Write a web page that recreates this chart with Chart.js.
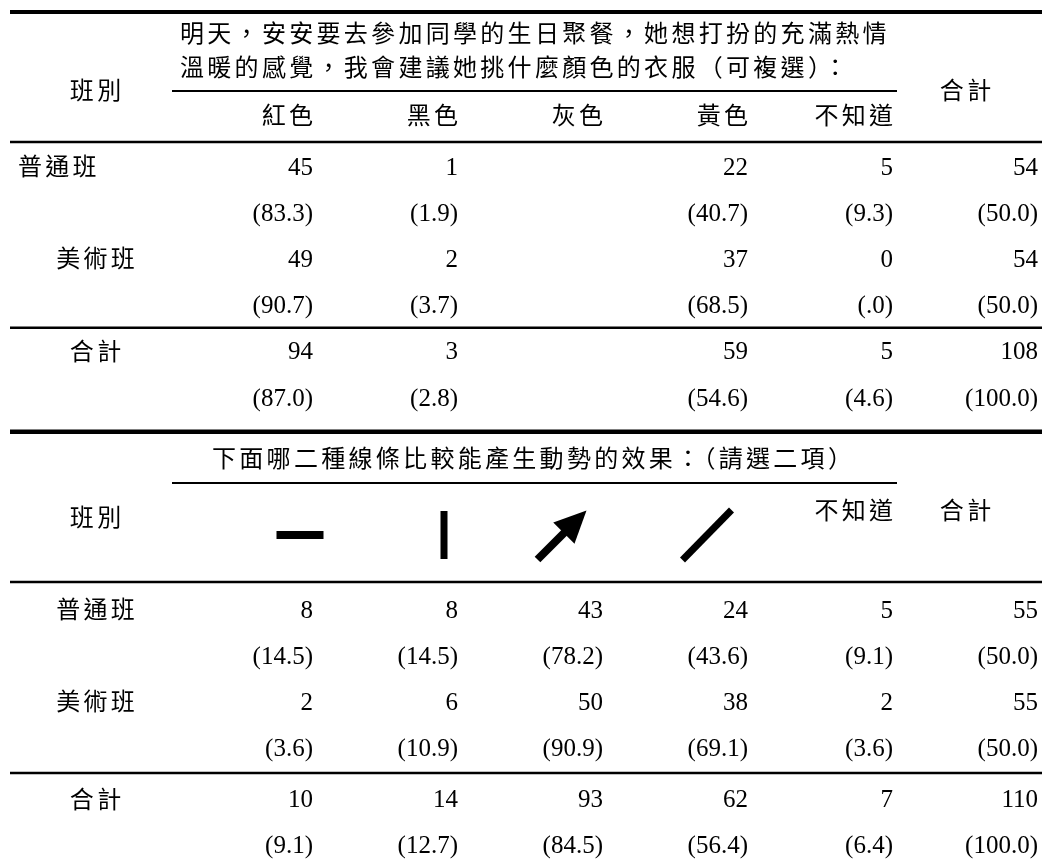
<!DOCTYPE html>
<html>
<head>
<meta charset="utf-8">
<title>班別 交叉表</title>
<script src="https://cdn.jsdelivr.net/npm/chart.js@4.4.0/dist/chart.umd.min.js"></script>
<style>
  html, body { margin: 0; padding: 0; background: #fff; }
  .tbl { position: relative; width: 1045px; height: 434px; }
</style>
</head>
<body>
<div class="tbl"><canvas id="t1"></canvas></div>
<div class="tbl"><canvas id="t2"></canvas></div>
<script>
// ---- data ----
const classLabels = ["普通班", "美術班", "合計"];

const q1Question = [
  "明天，安安要去參加同學的生日聚餐，她想打扮的充滿熱情",
  "溫暖的感覺，我會建議她挑什麼顏色的衣服（可複選）："
];
const q1Heads = ["紅色", "黑色", "灰色", "黃色", "不知道"];
const q1RegularN   = [45, 1, null, 22, 5, 54];
const q1RegularPct = [83.3, 1.9, null, 40.7, 9.3, 50.0];
const q1ArtN       = [49, 2, null, 37, 0, 54];
const q1ArtPct     = [90.7, 3.7, null, 68.5, 0.0, 50.0];
const q1TotalN     = [94, 3, null, 59, 5, 108];
const q1TotalPct   = [87.0, 2.8, null, 54.6, 4.6, 100.0];

const q2Question = ["下面哪二種線條比較能產生動勢的效果：（請選二項）"];
const q2Symbols = ["horizontal", "vertical", "arrow", "diagonal"];
const q2Heads = [null, null, null, null, "不知道"];
const q2RegularN   = [8, 8, 43, 24, 5, 55];
const q2RegularPct = [14.5, 14.5, 78.2, 43.6, 9.1, 50.0];
const q2ArtN       = [2, 6, 50, 38, 2, 55];
const q2ArtPct     = [3.6, 10.9, 90.9, 69.1, 3.6, 50.0];
const q2TotalN     = [10, 14, 93, 62, 7, 110];
const q2TotalPct   = [9.1, 12.7, 84.5, 56.4, 6.4, 100.0];

const totalHead = "合計";
const classHead = "班別";

// ---- look ----
const CJK = '"Noto Sans CJK TC", "Noto Sans CJK SC", sans-serif';
const NUM = '"Liberation Serif", "Times New Roman", serif';
const CJK_SIZE = 24, NUM_SIZE = 25, SPACING = 3.3;
const RULE_L = 10, RULE_R = 1042, SPAN_L = 172, SPAN_R = 897;

function fmtPct(v) {
  let s = v.toFixed(1);
  if (s.startsWith("0.")) s = s.slice(1);
  return "(" + s + ")";
}

function bodyPoints(rows) {
  const pts = [];
  rows.forEach((vals, r) => {
    vals.forEach((v, c) => {
      if (v === null) return;
      pts.push({ x: c, y: r, t: r % 2 ? fmtPct(v) : String(v) });
    });
  });
  return pts;
}

function labelPoints() {
  return classLabels.map((name, i) => ({ x: -1, y: i * 2, t: name }));
}

function spaced(ctx, text, x, y, align) {
  ctx.save();
  ctx.font = CJK_SIZE + "px " + CJK;
  ctx.textAlign = "left";
  ctx.textBaseline = "alphabetic";
  const chars = Array.from(text);
  const ws = chars.map(ch => ctx.measureText(ch).width);
  const w = ws.reduce((a, b) => a + b, 0) + SPACING * (chars.length - 1);
  let x0 = align === "right" ? x - w : align === "center" ? x - w / 2 : x;
  const base = y + 9;
  if ("letterSpacing" in ctx) {
    ctx.letterSpacing = SPACING + "px";
    ctx.fillText(text, x0, base);
  } else {
    chars.forEach((ch, i) => { ctx.fillText(ch, x0, base); x0 += ws[i] + SPACING; });
  }
  ctx.restore();
}

function rule(ctx, y, lw, x0 = RULE_L, x1 = RULE_R) {
  ctx.save();
  ctx.lineWidth = lw;
  ctx.strokeStyle = "#000";
  ctx.beginPath();
  ctx.moveTo(x0, y);
  ctx.lineTo(x1, y);
  ctx.stroke();
  ctx.restore();
}

function drawSymbol(ctx, kind, cx, cy) {
  ctx.save();
  ctx.fillStyle = "#000";
  ctx.strokeStyle = "#000";
  ctx.lineCap = "butt";
  if (kind === "horizontal") {
    ctx.fillRect(cx - 23.5, cy - 4, 47, 8);
  } else if (kind === "vertical") {
    ctx.fillRect(cx - 3.5, cy - 24, 7, 48);
  } else if (kind === "arrow") {
    const tx = cx - 24.5, ty = cy + 24.5, hx = cx + 24.5, hy = cy - 24.5;
    const len = Math.hypot(hx - tx, hy - ty);
    const ux = (hx - tx) / len, uy = (hy - ty) / len, nx = -uy, ny = ux;
    const headLen = 32, headW = 15;
    const bx = hx - ux * headLen, by = hy - uy * headLen;
    ctx.lineWidth = 8;
    ctx.beginPath();
    ctx.moveTo(tx, ty);
    ctx.lineTo(bx + ux * 3, by + uy * 3);
    ctx.stroke();
    ctx.beginPath();
    ctx.moveTo(hx, hy);
    ctx.lineTo(bx + nx * headW, by + ny * headW);
    ctx.lineTo(bx - nx * headW, by - ny * headW);
    ctx.closePath();
    ctx.fill();
  } else if (kind === "diagonal") {
    ctx.lineWidth = 7;
    ctx.beginPath();
    ctx.moveTo(cx - 24.5, cy + 25);
    ctx.lineTo(cx + 24.5, cy - 25);
    ctx.stroke();
  }
  ctx.restore();
}

// draws the whole table from the scales and the dataset elements
const tablePlugin = {
  id: "tableCells",
  afterDraw(chart, args, o) {
    const ctx = chart.ctx;
    const xs = chart.scales.x, ys = chart.scales.y;
    const half = (xs.getPixelForValue(1) - xs.getPixelForValue(0)) / 2;
    const rightEdge = c => xs.getPixelForValue(c) + half;
    const mid = c => xs.getPixelForValue(c);
    const rowPx = r => ys.getPixelForValue(r);

    ctx.save();
    ctx.fillStyle = "#000";

    // rules
    if (o.topRule) rule(ctx, o.topRule, 4);
    rule(ctx, o.spanRule, 2, SPAN_L, SPAN_R);
    rule(ctx, o.headRule, 2.5);
    const groupY = (rowPx(3) + rowPx(4 + o.gap)) / 2;
    rule(ctx, groupY, 2.5);
    if (o.bottomRule) rule(ctx, o.bottomRule, 5);

    // question text
    o.question.forEach((line, i) => spaced(ctx, line, o.qx, o.qy[i], "left"));

    // header cells
    spaced(ctx, classHead, mid(-1), o.classHeadY, "center");
    spaced(ctx, totalHead, mid(5), o.totalHeadY, "center");
    o.heads.forEach((h, c) => { if (h) spaced(ctx, h, rightEdge(c), o.headY, "right"); });
    if (o.symbols) {
      o.symbols.forEach((s, c) => drawSymbol(ctx, s, rightEdge(c) + o.symbolShift[c], o.symbolY));
    }

    // body numbers
    const bodyData = chart.data.datasets[0].data;
    ctx.font = NUM_SIZE + "px " + NUM;
    ctx.textAlign = "right";
    ctx.textBaseline = "alphabetic";
    chart.getDatasetMeta(0).data.forEach((el, i) => {
      ctx.fillText(bodyData[i].t, el.x + half, el.y + 8.5);
    });

    // row labels
    const labData = chart.data.datasets[1].data;
    chart.getDatasetMeta(1).data.forEach((el, i) => {
      if (o.firstLabelLeft && i === 0) spaced(ctx, labData[i].t, el.x - half - 5, el.y, "left");
      else spaced(ctx, labData[i].t, el.x, el.y, "center");
    });
    ctx.restore();
  }
};

function makeTable(id, rows, lay) {
  const body = bodyPoints(rows).map(p => ({ ...p, y: p.y >= 4 ? p.y + lay.gap : p.y }));
  const labels = labelPoints().map(p => ({ ...p, y: p.y >= 4 ? p.y + lay.gap : p.y }));
  const areaH = (6 + lay.gap) * lay.rowUnit;
  const top = lay.row0 - lay.rowUnit / 2;
  return new Chart(document.getElementById(id), {
    type: "scatter",
    data: {
      datasets: [
        { data: body, pointRadius: 0, showLine: false },
        { data: labels, pointRadius: 0, showLine: false }
      ]
    },
    options: {
      animation: false,
      responsive: true,
      maintainAspectRatio: false,
      events: [],
      layout: { padding: { left: 168, right: 7, top: top, bottom: Math.max(0, 434 - top - areaH) } },
      plugins: { legend: { display: false }, tooltip: { enabled: false }, tableCells: lay },
      scales: {
        x: { type: "linear", min: -0.5, max: 5.5, display: false },
        y: { type: "linear", min: -0.5, max: 5.5 + lay.gap, reverse: true, display: false }
      }
    },
    plugins: [tablePlugin]
  });
}

function build() {
  makeTable("t1",
    [q1RegularN, q1RegularPct, q1ArtN, q1ArtPct, q1TotalN, q1TotalPct],
    {
      row0: 166, rowUnit: 46.2, gap: 0,
      topRule: 12, spanRule: 91, headRule: 142, bottomRule: 432,
      question: q1Question, qx: 180, qy: [33, 67],
      heads: q1Heads, headY: 115, classHeadY: 90, totalHeadY: 90,
      firstLabelLeft: true
    });
  makeTable("t2",
    [q2RegularN, q2RegularPct, q2ArtN, q2ArtPct, q2TotalN, q2TotalPct],
    {
      row0: 175, rowUnit: 46, gap: 0.13,
      topRule: 0, spanRule: 49, headRule: 148, bottomRule: 0,
      question: q2Question, qx: 212, qy: [24],
      heads: q2Heads, headY: 76, classHeadY: 83, totalHeadY: 76,
      symbols: q2Symbols, symbolShift: [-13, -14, -41, -41], symbolY: 101,
      firstLabelLeft: false
    });
}

if (document.fonts && document.fonts.load) {
  Promise.all([
    document.fonts.load(CJK_SIZE + 'px "Noto Sans CJK TC"', "班別"),
    document.fonts.load(NUM_SIZE + 'px "Liberation Serif"', "0")
  ]).then(build, build);
} else {
  build();
}
</script>
</body>
</html>
